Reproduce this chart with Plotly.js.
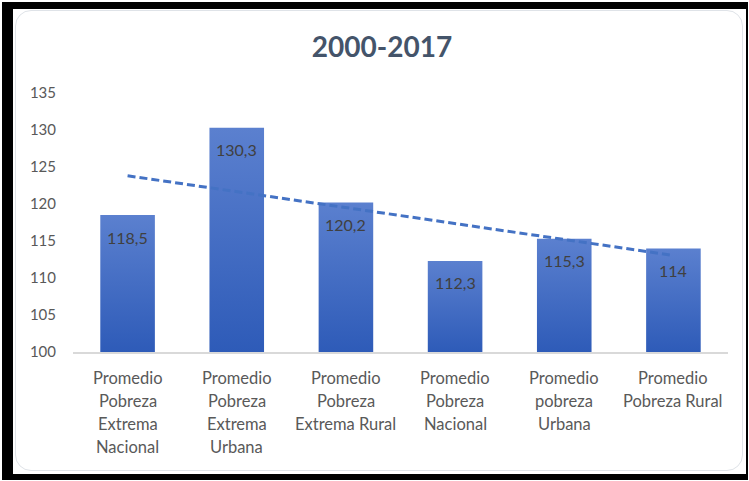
<!DOCTYPE html>
<html>
<head>
<meta charset="utf-8">
<script src="https://cdn.plot.ly/plotly-3.0.1.min.js"></script>
<style>
  html, body { margin:0; padding:0; background:#ffffff; width:749px; height:481px; overflow:hidden; }
  #frame { position:absolute; left:2px; top:2px; width:746px; height:478px; background:#000; }
  #inner { position:absolute; left:13px; top:9px; width:733px; height:465px; background:#fff; }
  #card { position:absolute; left:15px; top:10px; width:728px; height:461px; background:#fff;
          border:1.5px solid #dfe3e8; border-radius:16px; box-sizing:border-box; }
  #chart { position:absolute; left:0; top:0; width:749px; height:481px; }
</style>
</head>
<body>
<div id="frame"></div>
<div id="inner"></div>
<div id="card"></div>
<div id="chart"></div>
<script>
const categories = [
  "Promedio<br>Pobreza<br>Extrema<br>Nacional",
  "Promedio<br>Pobreza<br>Extrema<br>Urbana",
  "Promedio<br>Pobreza<br>Extrema Rural",
  "Promedio<br>Pobreza<br>Nacional",
  "Promedio<br>pobreza<br>Urbana",
  "Promedio<br>Pobreza Rural"
];
const values = [118.5, 130.3, 120.2, 112.3, 115.3, 114];
const valueLabels = ["118,5", "130,3", "120,2", "112,3", "115,3", "114"];
const yTicks = [100, 105, 110, 115, 120, 125, 130, 135];
const titleText = "2000-2017";

// linear trendline (least squares) from the data
const n = values.length;
const xs = values.map((_, i) => i + 1);
const mx = xs.reduce((a, b) => a + b, 0) / n;
const my = values.reduce((a, b) => a + b, 0) / n;
let sxy = 0, sxx = 0;
for (let i = 0; i < n; i++) { sxy += (xs[i] - mx) * (values[i] - my); sxx += (xs[i] - mx) ** 2; }
const slope = sxy / sxx;
const trend = xs.map(x => my + slope * (x - mx));

const catIdx = categories.map((_, i) => i);
const FONT = "Lato, 'Noto Sans', sans-serif";

const barTrace = {
  type: "bar",
  x: catIdx,
  y: values,
  width: 0.5,
  marker: { color: "#4472C4" },
  hoverinfo: "none",
  showlegend: false
};
const trendTrace = {
  type: "scatter",
  mode: "lines",
  x: catIdx,
  y: trend,
  line: { color: "#4472C4", width: 3, dash: "8px,4px" },
  hoverinfo: "none",
  showlegend: false
};

const annotations = [];
values.forEach((v, i) => {
  annotations.push({
    x: i, y: v, xref: "x", yref: "y",
    text: valueLabels[i], showarrow: false,
    yanchor: "middle", yshift: -22,
    font: { family: FONT, size: 16, color: "#404040" }
  });
});
categories.forEach((c, i) => {
  c.split("<br>").forEach((line, k) => {
    annotations.push({
      x: i, y: 0, xref: "x", yref: "paper",
      text: line, showarrow: false,
      yanchor: "middle", yshift: -(26 + k * 23),
      font: { family: FONT, size: 16.5, color: "#595959" }
    });
  });
});

const layout = {
  width: 749, height: 481,
  margin: { l: 73, r: 21, t: 93, b: 129 },
  paper_bgcolor: "rgba(0,0,0,0)",
  plot_bgcolor: "rgba(0,0,0,0)",
  title: {
    text: "<b>" + titleText + "</b>",
    xref: "container", yref: "container",
    x: 382 / 749, xanchor: "center",
    y: 1 - 47 / 481, yanchor: "middle",
    font: { family: FONT, size: 28, color: "#44546A" }
  },
  xaxis: {
    range: [-0.5, 5.5],
    showticklabels: false,
    showgrid: false, zeroline: false,
    showline: true, linecolor: "#D9D9D9", linewidth: 1.5,
    ticks: "", fixedrange: true
  },
  yaxis: {
    range: [100, 135],
    tickvals: yTicks,
    ticktext: yTicks.map(String),
    showgrid: false, zeroline: false, showline: false,
    ticks: "", ticklabelstandoff: 16,
    tickfont: { family: FONT, size: 15, color: "#595959" },
    fixedrange: true
  },
  bargap: 0.5,
  annotations: annotations,
  showlegend: false
};

function applyGradient(gd) {
  const ns = "http://www.w3.org/2000/svg";
  const ya = gd._fullLayout.yaxis;
  const yBottom = ya.d2p(ya.range[0]);
  const paths = document.querySelectorAll("#chart g.point path");
  paths.forEach((p, i) => {
    const svg = p.ownerSVGElement;
    let defs = svg.querySelector("defs");
    if (!defs) { defs = document.createElementNS(ns, "defs"); svg.insertBefore(defs, svg.firstChild); }
    const id = "barGrad" + i;
    const grad = document.createElementNS(ns, "linearGradient");
    grad.setAttribute("id", id);
    grad.setAttribute("gradientUnits", "userSpaceOnUse");
    grad.setAttribute("x1", "0"); grad.setAttribute("x2", "0");
    grad.setAttribute("y1", String(ya.d2p(values[i])));
    grad.setAttribute("y2", String(yBottom));
    [["0", "#5B80CF"], ["1", "#2E5BB8"]].forEach(([o, c]) => {
      const s = document.createElementNS(ns, "stop");
      s.setAttribute("offset", o); s.setAttribute("stop-color", c);
      grad.appendChild(s);
    });
    defs.appendChild(grad);
    p.style.setProperty("fill", "url(#" + id + ")", "important");
  });
}

const gd = document.getElementById("chart");
Plotly.newPlot(gd, [barTrace, trendTrace], layout, { displayModeBar: false, staticPlot: true })
  .then(() => applyGradient(gd));
</script>
</body>
</html>
